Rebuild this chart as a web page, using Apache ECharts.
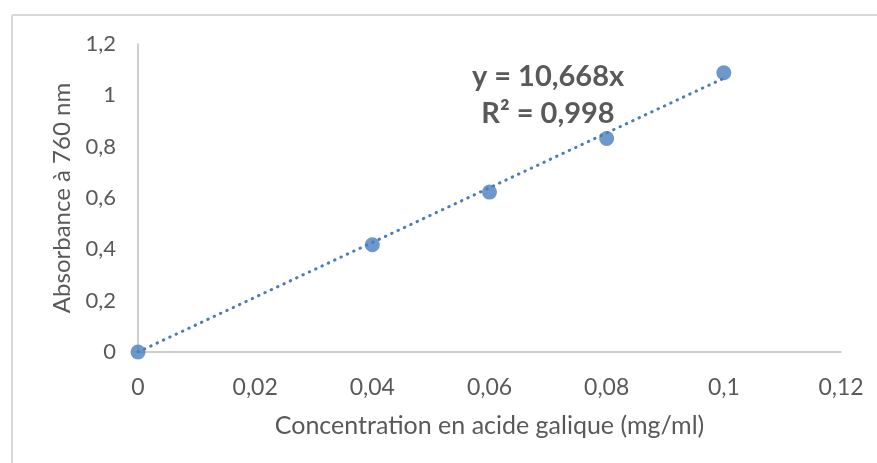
<!DOCTYPE html>
<html><head><meta charset="utf-8">
<script src="https://cdn.jsdelivr.net/npm/echarts@6/dist/echarts.min.js"></script>
<style>html,body{margin:0;padding:0;background:#fff}#c{width:877px;height:463px}</style>
</head><body><div id="c"></div>
<script>
const concentrations = [0, 0.04, 0.06, 0.08, 0.1];
const absorbances = [0, 0.418, 0.623, 0.832, 1.088];
const slope = 10.668;
const trendX = [0, 0.1];
const equationText = 'y = 10,668x';
const r2Text = 'R² = 0,998';
const xTitle = 'Concentration en acide galique (mg/ml)';
const yTitle = 'Absorbance à 760 nm';

const font = 'Lato, "Open Sans", sans-serif';
const textColor = '#595959';
const blue = '#4a7ebb';
const fmt = v => String(+v.toFixed(2)).replace('.', ',');

const chart = echarts.init(document.getElementById('c'));
chart.setOption({
  animation: false,
  grid: {left: 138, right: 36, top: 44, bottom: 111},
  graphic: [
    {type: 'line', shape: {x1: 12, y1: 15, x2: 877, y2: 15}, style: {stroke: '#d9d9d9', lineWidth: 2}},
    {type: 'line', shape: {x1: 12, y1: 15, x2: 12, y2: 463}, style: {stroke: '#d9d9d9', lineWidth: 2}},
    {type: 'text', style: {text: equationText, x: 548, y: 77, textAlign: 'center', textVerticalAlign: 'middle', font: 'bold 29px ' + font, fill: textColor}},
    {type: 'text', style: {text: r2Text, x: 548, y: 114, textAlign: 'center', textVerticalAlign: 'middle', font: 'bold 29px ' + font, fill: textColor}}
  ],
  xAxis: {
    type: 'value', min: 0, max: 0.12, interval: 0.02,
    name: xTitle, nameLocation: 'middle', nameGap: 61,
    nameTextStyle: {color: textColor, fontSize: 25, fontFamily: font},
    axisLine: {show: true, lineStyle: {color: '#bfbfbf', width: 1.5}},
    axisTick: {show: false},
    splitLine: {show: false},
    axisLabel: {color: textColor, fontSize: 23, fontFamily: font, margin: 24, formatter: fmt}
  },
  yAxis: {
    type: 'value', min: 0, max: 1.2, interval: 0.2,
    name: yTitle, nameLocation: 'middle', nameGap: 63, nameRotate: 90,
    nameTextStyle: {color: textColor, fontSize: 24, fontFamily: font},
    axisLine: {show: true, lineStyle: {color: '#bfbfbf', width: 1.5}},
    axisTick: {show: false},
    splitLine: {show: false},
    axisLabel: {color: textColor, fontSize: 22, fontFamily: font, margin: 22, formatter: fmt}
  },
  series: [
    {
      type: 'line', data: trendX.map(x => [x, slope * x]), symbol: 'none',
      lineStyle: {color: blue, width: 3, type: [0.5, 6.5], cap: 'round'}, z: 1
    },
    {
      type: 'scatter', data: concentrations.map((x, i) => [x, absorbances[i]]),
      symbolSize: 15, itemStyle: {color: blue}, z: 2
    }
  ]
});
</script></body></html>
